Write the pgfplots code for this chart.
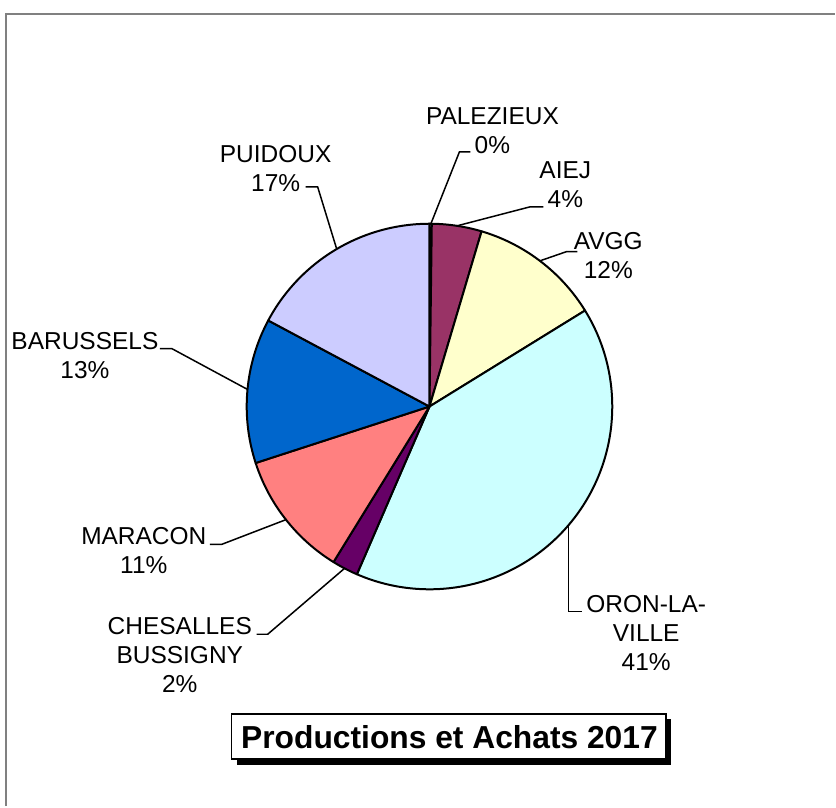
\documentclass[border=0pt]{standalone}
\usepackage{pgfplots}
\pgfplotsset{compat=1.18}
\usepackage{fontspec}
\setmainfont{Liberation Sans}
\definecolor{cPal}{HTML}{9999FF}
\definecolor{cAiej}{HTML}{993366}
\definecolor{cAvgg}{HTML}{FFFFCC}
\definecolor{cOron}{HTML}{CCFFFF}
\definecolor{cChes}{HTML}{660066}
\definecolor{cMara}{HTML}{FF8080}
\definecolor{cBaru}{HTML}{0066CC}
\definecolor{cPuid}{HTML}{CCCCFF}
% shares (percent), clockwise from the top
\def\vPal{0.2}
\def\vAiej{4.4}
\def\vAvgg{11.6}
\def\vOron{40.3}
\def\vChes{2.3}
\def\vMara{11.2}
\def\vBaru{12.8}
\def\vPuid{17.2}
\pgfmathsetmacro\aA{0}
\pgfmathsetmacro\aB{\aA+3.6*\vPal}
\pgfmathsetmacro\aC{\aB+3.6*\vAiej}
\pgfmathsetmacro\aD{\aC+3.6*\vAvgg}
\pgfmathsetmacro\aE{\aD+3.6*\vOron}
\pgfmathsetmacro\aF{\aE+3.6*\vChes}
\pgfmathsetmacro\aG{\aF+3.6*\vMara}
\pgfmathsetmacro\aH{\aG+3.6*\vBaru}
\pgfmathsetmacro\aI{\aH+3.6*\vPuid}
\begin{document}
\begin{tikzpicture}
\begin{axis}[width=836pt, height=807pt, scale only axis,
  xmin=0, xmax=836, ymin=0, ymax=807, y dir=reverse,
  hide axis, clip=false]
\path (axis cs:0,0) (axis cs:836,807);
% chart area border (top and left visible)
\draw[color=black!50, line width=2pt] (axis cs:6,807) -- (axis cs:6,14) -- (axis cs:836,14);
\pgfplotsset{pie/.style={draw=black, line width=2pt, line join=round, mark=none, samples=120}}
\addplot[pie, fill=cPal, domain=\aA:\aB] ({430+183*sin(x)},{407-183*cos(x)}) -- (axis cs:430,407) -- cycle;
\addplot[pie, fill=cAiej, domain=\aB:\aC] ({430+183*sin(x)},{407-183*cos(x)}) -- (axis cs:430,407) -- cycle;
\addplot[pie, fill=cAvgg, domain=\aC:\aD] ({430+183*sin(x)},{407-183*cos(x)}) -- (axis cs:430,407) -- cycle;
\addplot[pie, fill=cOron, domain=\aD:\aE] ({430+183*sin(x)},{407-183*cos(x)}) -- (axis cs:430,407) -- cycle;
\addplot[pie, fill=cChes, domain=\aE:\aF] ({430+183*sin(x)},{407-183*cos(x)}) -- (axis cs:430,407) -- cycle;
\addplot[pie, fill=cMara, domain=\aF:\aG] ({430+183*sin(x)},{407-183*cos(x)}) -- (axis cs:430,407) -- cycle;
\addplot[pie, fill=cBaru, domain=\aG:\aH] ({430+183*sin(x)},{407-183*cos(x)}) -- (axis cs:430,407) -- cycle;
\addplot[pie, fill=cPuid, domain=\aH:\aI] ({430+183*sin(x)},{407-183*cos(x)}) -- (axis cs:430,407) -- cycle;
% leader lines
\begin{scope}[line width=1.5pt]
\draw (axis cs:431,225) -- (axis cs:460,152) -- (axis cs:471,152);
\draw (axis cs:458,226) -- (axis cs:531,207) -- (axis cs:544,207);
\draw (axis cs:541,261) -- (axis cs:567,252) -- (axis cs:578,252);
\draw (axis cs:569,525) -- (axis cs:569,612) -- (axis cs:583,612);
\draw (axis cs:345,569) -- (axis cs:268,635) -- (axis cs:257,635);
\draw (axis cs:287,520) -- (axis cs:222,545) -- (axis cs:210,545);
\draw (axis cs:248,390) -- (axis cs:172,349) -- (axis cs:160,349);
\draw (axis cs:337,249) -- (axis cs:318,187) -- (axis cs:306,187);
\end{scope}
% labels
\begin{scope}[every node/.style={align=center, inner sep=0pt, font=\fontsize{24.5}{29}\selectfont}]
\node at (axis cs:493,131) {PALEZIEUX\\0\%};
\node at (axis cs:566,185) {AIEJ\\4\%};
\node at (axis cs:609,256) {AVGG\\12\%};
\node at (axis cs:647,634) {ORON-LA-\\VILLE\\41\%};
\node at (axis cs:180,656) {CHESALLES\\BUSSIGNY\\2\%};
\node at (axis cs:144,551) {MARACON\\11\%};
\node at (axis cs:85,356) {BARUSSELS\\13\%};
\node at (axis cs:276,169) {PUIDOUX\\17\%};
\end{scope}
% title box with shadow
\fill[black] (axis cs:237,720) rectangle (axis cs:672,766);
\draw[fill=white, line width=1.5pt] (axis cs:232,715) rectangle (axis cs:667,760);
\node[font=\bfseries\fontsize{31.8}{36}\selectfont, inner sep=0pt] at (axis cs:450,738) {Productions et Achats 2017};
\end{axis}
\end{tikzpicture}
\end{document}
